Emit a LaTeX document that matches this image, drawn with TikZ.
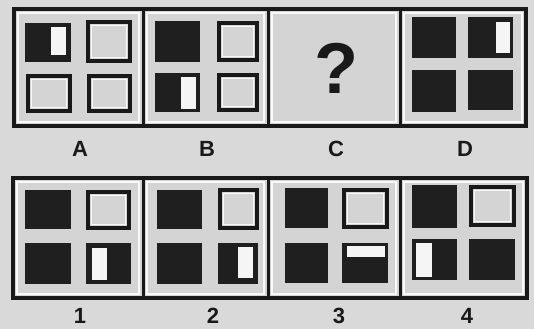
\documentclass[tikz,border=0pt]{standalone}
\usepackage{fontspec}
\setmainfont{Liberation Sans}
\begin{document}
\begin{tikzpicture}[x=1pt,y=-1pt,
  bg/.style={fill=bgcol},
  frame/.style={draw=black!90,line width=4pt,fill=panelcol},
  divider/.style={draw=black!90,line width=3pt},
  innerframe/.style={draw=white!95!gray,line width=1.6pt},
  blk/.style={fill=black!88},
  outl/.style={draw=black!90,line width=4.5pt,fill=panelcol},
  outlin/.style={draw=white!95!gray,line width=1.2pt},
  wbar/.style={fill=white!92!gray},
  lbl/.style={font=\bfseries\fontsize{22}{22}\selectfont,text=black!90,inner sep=0pt}]
\definecolor{bgcol}{gray}{0.85}
\definecolor{panelcol}{gray}{0.83}
\useasboundingbox (0,0) rectangle (534,329);
\fill[bg] (0,0) rectangle (534,329);
% ---------- top strip ----------
\draw[frame] (14,9) rectangle (526,126);
\foreach \a/\b in {14/143,143/268,268/400,400/526}{
  \draw[innerframe] (\a+4,13) rectangle (\b-4,122);
}
\foreach \x in {143,268,400} \draw[divider] (\x,9) -- (\x,126);
% A
\fill[blk] (25,23) rectangle (71,62);
\fill[wbar] (51,27) rectangle (66,55);
\draw[outl] (88,22) rectangle (130,61); \draw[outlin] (91.5,25.5) rectangle (126.5,57.5);
\draw[outl] (28,76) rectangle (70,111); \draw[outlin] (31.5,79.5) rectangle (66.5,107.5);
\draw[outl] (89,76) rectangle (130,111); \draw[outlin] (92.5,79.5) rectangle (126.5,107.5);
% B
\fill[blk] (155,21) rectangle (200,62);
\draw[outl] (219,23) rectangle (257,60); \draw[outlin] (222.5,26.5) rectangle (253.5,56.5);
\fill[blk] (155,73) rectangle (200,112);
\fill[wbar] (181,77) rectangle (196,109);
\draw[outl] (219,75) rectangle (257,110); \draw[outlin] (222.5,78.5) rectangle (253.5,106.5);
% C
\node[font=\bfseries\fontsize{72}{72}\selectfont,text=black!90,inner sep=0pt] (q) at (336,68) {?};
% D
\fill[blk] (412,17) rectangle (456,58);
\fill[blk] (468,17) rectangle (513,58);
\fill[wbar] (496,22) rectangle (510,53);
\fill[blk] (412,70) rectangle (456,112);
\fill[blk] (468,70) rectangle (513,110);
% labels
\node[lbl] (lA) at (80,149) {A};
\node[lbl] (lB) at (207,149) {B};
\node[lbl] (lC) at (336,149) {C};
\node[lbl] (lD) at (465,149) {D};
% ---------- bottom strip ----------
\draw[frame] (13,178) rectangle (527,298);
\foreach \a/\b in {13/143,143/268,268/400,400/527}{
  \draw[innerframe] (\a+4,182) rectangle (\b-4,294);
}
\foreach \x in {143,268,400} \draw[divider] (\x,178) -- (\x,298);
% 1
\fill[blk] (25,190) rectangle (71,229);
\draw[outl] (88,192) rectangle (129,228); \draw[outlin] (91.5,195.5) rectangle (125.5,224.5);
\fill[blk] (25,243) rectangle (71,284);
\fill[blk] (86,243) rectangle (131,284);
\fill[wbar] (92,248) rectangle (107,280);
% 2
\fill[blk] (157,190) rectangle (202,229);
\draw[outl] (220,190) rectangle (257,228); \draw[outlin] (223.5,193.5) rectangle (253.5,224.5);
\fill[blk] (157,243) rectangle (202,284);
\fill[blk] (218,243) rectangle (258,284);
\fill[wbar] (238,247) rectangle (253,278);
% 3
\fill[blk] (285,188) rectangle (328,228);
\draw[outl] (344,190) rectangle (387,227); \draw[outlin] (347.5,193.5) rectangle (383.5,223.5);
\fill[blk] (285,243) rectangle (328,283);
\fill[blk] (342,243) rectangle (388,283);
\fill[wbar] (347,246) rectangle (385,257);
% 4
\fill[blk] (412,185) rectangle (457,228);
\draw[outl] (471,187) rectangle (514,225); \draw[outlin] (474.5,190.5) rectangle (510.5,221.5);
\fill[blk] (412,239) rectangle (457,280);
\fill[wbar] (416,243) rectangle (432,277);
\fill[blk] (469,239) rectangle (515,280);
% labels
\node[lbl] (l1) at (80,316) {1};
\node[lbl] (l2) at (213,316) {2};
\node[lbl] (l3) at (339,316) {3};
\node[lbl] (l4) at (467,316) {4};
\end{tikzpicture}
\end{document}
